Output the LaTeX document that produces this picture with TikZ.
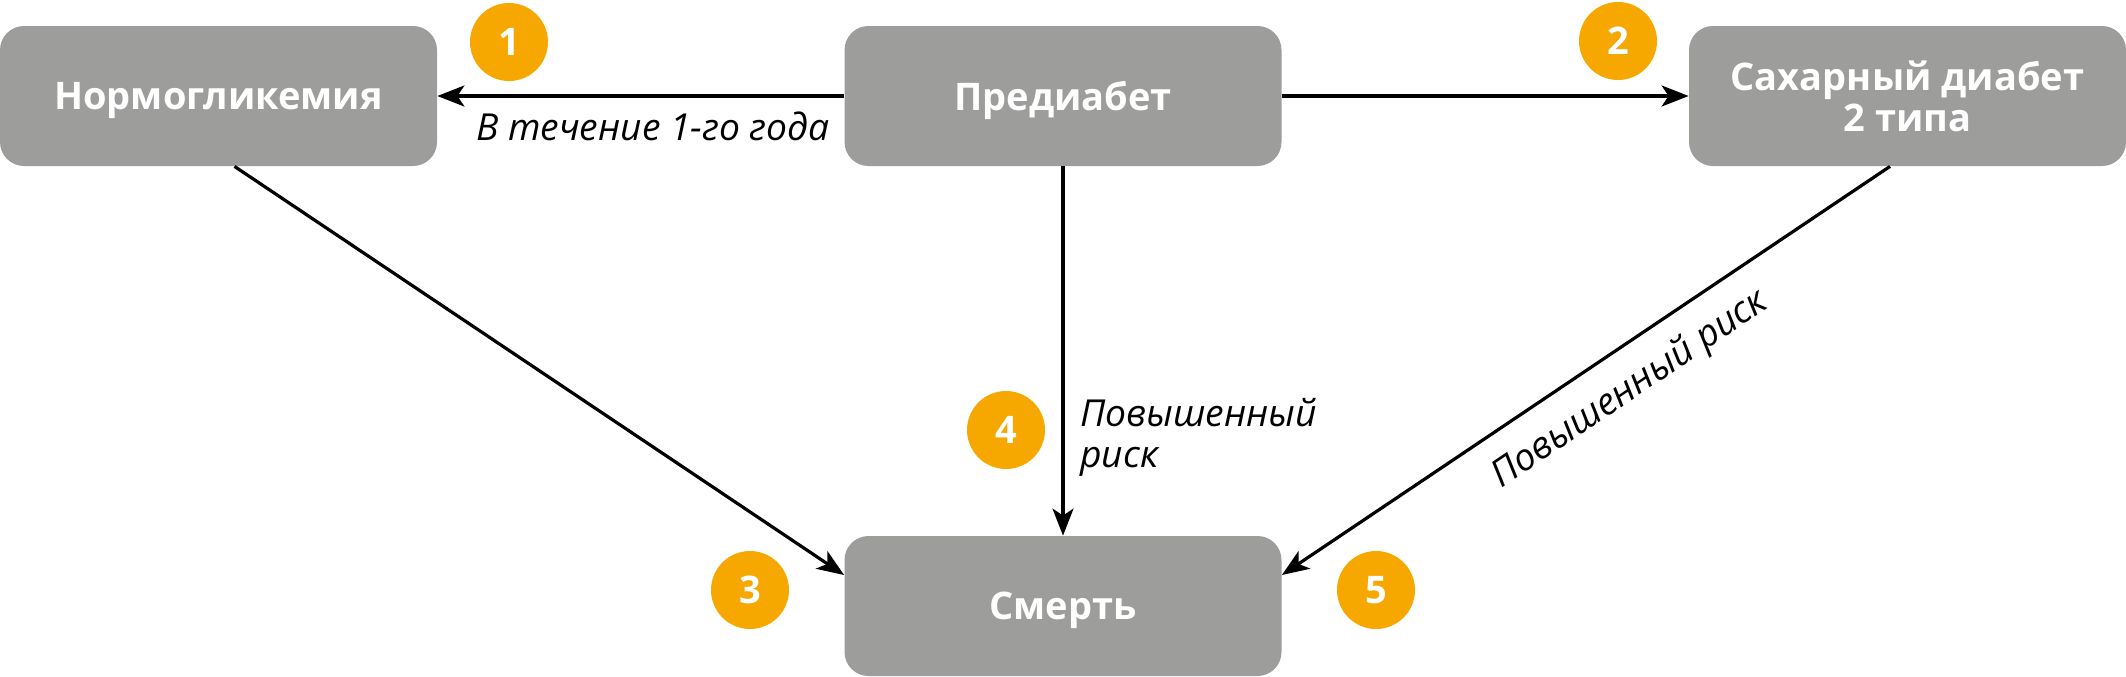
\documentclass[tikz,border=0pt]{standalone}
\usepackage{fontspec}
\setmainfont{Open Sans}
\usetikzlibrary{arrows.meta}
\definecolor{boxgray}{HTML}{9D9D9C}
\definecolor{orng}{HTML}{F6A800}
\begin{document}
\begin{tikzpicture}[x=0.5pt,y=-0.5pt,
 box/.style={fill=boxgray, rounded corners=12pt, minimum width=218.5pt, minimum height=70pt, inner sep=0pt, text=white, font=\fontsize{19}{20.5}\selectfont\bfseries, align=center, text depth=0pt},
 num/.style={circle, fill=orng, minimum size=39pt, inner sep=0pt, text=white, font=\fontsize{19}{20.5}\selectfont\bfseries},
 conn/.style={line width=1.6pt, -{Stealth[length=13.5pt,width=10.5pt,inset=3.5pt]}},
 lbl/.style={font=\fontsize{18.6}{20.5}\selectfont\itshape, inner sep=0pt, align=left}]
\useasboundingbox (0,0) rectangle (2126,676);
\node[box] (N) at (218.5,96) {Нормогликемия};
\node[box] (P) at (1063,96) {Предиабет};
\node[box] (S) at (1907.5,96) {Сахарный диабет\\2 типа};
\node[box] (D) at (1063,606) {Смерть};

\draw[conn] (P.west) -- (N.east);
\draw[conn] (P.east) -- (S.west);
\draw[conn] (P.south) -- (D.north);
\draw[conn] ([xshift=8pt]N.south) -- ([yshift=15.5pt]D.west);
\draw[conn] ([xshift=-8.75pt]S.south) -- ([yshift=15.5pt]D.east);

\node[lbl, anchor=base] (L1) at (653,140) {В течение 1-го года};
\node[lbl, anchor=north west] (L4) at (1080,398) {Повышенный\\риск};
\node[lbl, rotate=34] (L5) at (1630,390) {Повышенный риск};

\node[num] (c1) at (509,42) {1};
\node[num] (c2) at (1618,41) {2};
\node[num] (c3) at (750,590) {3};
\node[num] (c4) at (1006,430) {4};
\node[num] (c5) at (1376,590) {5};
\end{tikzpicture}
\end{document}
